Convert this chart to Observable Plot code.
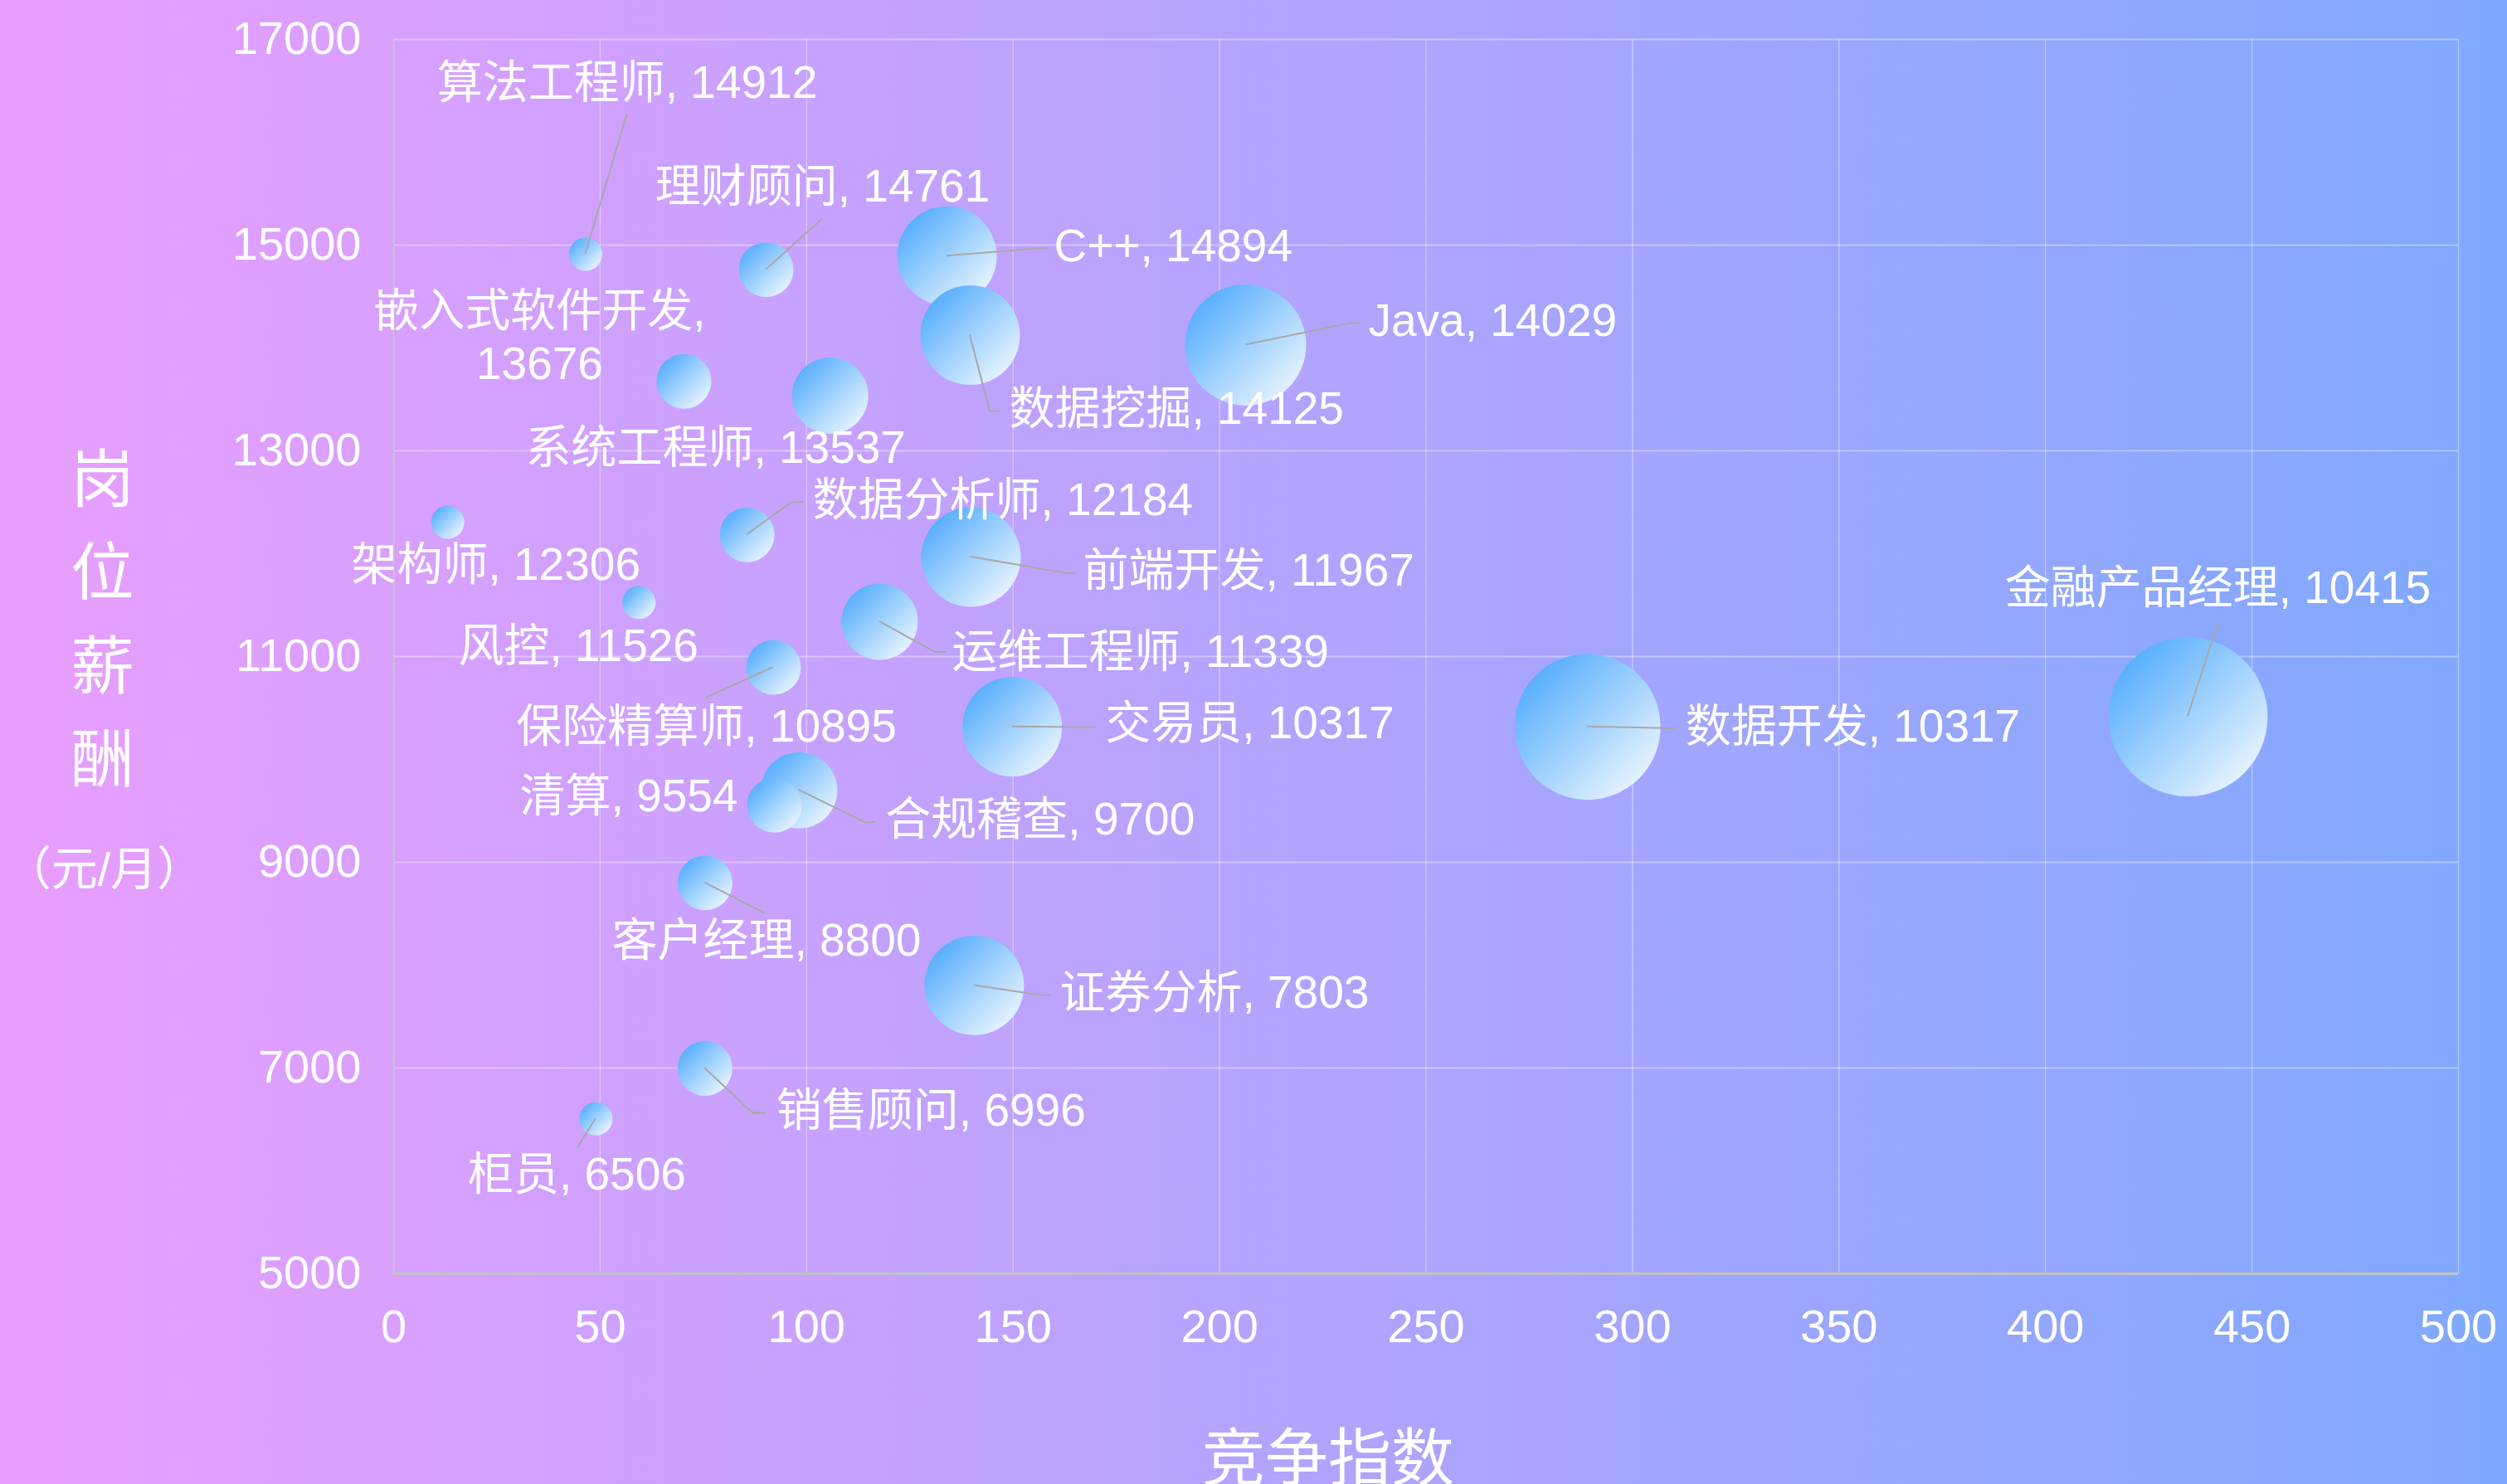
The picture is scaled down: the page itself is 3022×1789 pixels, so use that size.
<!DOCTYPE html>
<html>
<head>
<meta charset="utf-8">
<script src="https://cdn.jsdelivr.net/npm/d3@7"></script>
<script src="https://cdn.jsdelivr.net/npm/@observablehq/plot@0.6"></script>
<style>
  html, body { margin: 0; padding: 0; background: #b4a3fd; }
</style>
</head>
<body>
<div id="chart"></div>
<script>
// ---- data ----
const jobs = ["算法工程师", "理财顾问", "C++", "Java", "数据挖掘", "嵌入式软件开发", "系统工程师", "数据分析师",
  "架构师", "前端开发", "风控", "运维工程师", "保险精算师", "交易员", "数据开发", "金融产品经理",
  "合规稽查", "清算", "客户经理", "证券分析", "销售顾问", "柜员"];
const competition = [46.5, 90.2, 134.0, 206.3, 139.6, 70.3, 105.7, 85.6,
  13.1, 139.8, 59.4, 117.7, 92.0, 149.8, 289.1, 434.5,
  98.2, 92.2, 75.4, 140.6, 75.4, 49.0];
const salary = [14912, 14761, 14894, 14029, 14125, 13676, 13537, 12184,
  12306, 11967, 11526, 11339, 10895, 10317, 10317, 10415,
  9700, 9554, 8800, 7803, 6996, 6506];
const heat = [2.0, 3.3, 6.0, 7.3, 6.0, 3.3, 4.6, 3.3,
  2.0, 6.0, 2.0, 4.6, 3.3, 6.0, 8.8, 9.6,
  4.6, 3.3, 3.3, 6.0, 3.3, 2.0];
const xTicks = [0, 50, 100, 150, 200, 250, 300, 350, 400, 450, 500];
const yTicks = [5000, 7000, 9000, 11000, 13000, 15000, 17000];
const xTitle = "竞争指数";
const yTitle = ["岗", "位", "薪", "酬"];
const yUnit = "（元/月）";

// ---- label layout (pixel offsets from the bubble centre) ----
const labelLayout = {
  "算法工程师": {dx: 50, dy: -206, anchor: "middle", leader: [[50, -168]]},
  "理财顾问": {dx: 68, dy: -99, anchor: "middle", leader: [[68, -61]]},
  "C++": {dx: 129, dy: -11, anchor: "start", leader: [[112, -9], [122, -9]]},
  "Java": {dx: 148, dy: -28, anchor: "start", leader: [[126, -26], [138, -26]]},
  "数据挖掘": {dx: 47, dy: 90, anchor: "start", leader: [[24, 92], [37, 92]]},
  "嵌入式软件开发": {dx: -174, dy: -52, anchor: "middle", multiline: true},
  "系统工程师": {dx: -138, dy: 64, anchor: "middle"},
  "数据分析师": {dx: 79, dy: -41, anchor: "start", leader: [[54, -39], [68, -39]]},
  "架构师": {dx: 58, dy: 52, anchor: "middle"},
  "前端开发": {dx: 135, dy: 17, anchor: "start", leader: [[118, 20], [127, 20]]},
  "风控": {dx: -73, dy: 53, anchor: "middle"},
  "运维工程师": {dx: 87, dy: 37, anchor: "start", leader: [[67, 37], [80, 37]]},
  "保险精算师": {dx: -81, dy: 72, anchor: "middle", leader: [[-81, 37]]},
  "交易员": {dx: 112, dy: -3, anchor: "start", leader: [[90, 1], [102, 1]]},
  "数据开发": {dx: 118, dy: 1, anchor: "start", leader: [[97, 2], [107, 2]]},
  "金融产品经理": {dx: 36, dy: -154, anchor: "middle", leader: [[37, -114]]},
  "合规稽查": {dx: 104, dy: 36, anchor: "start", leader: [[80, 39], [92, 39]]},
  "清算": {dx: -44, dy: -10, anchor: "end"},
  "客户经理": {dx: 74, dy: 70, anchor: "middle", leader: [[73, 37]]},
  "证券分析": {dx: 103, dy: 10, anchor: "start", leader: [[80, 12], [92, 12]]},
  "销售顾问": {dx: 86, dy: 52, anchor: "start", leader: [[58, 54], [73, 54]]},
  "柜员": {dx: -23, dy: 68, anchor: "middle", leader: [[-22, 35]]}
};

const rows = jobs.map((name, i) => ({name, x: competition[i], y: salary[i], heat: heat[i]}));

const FONT = "'Liberation Sans', 'Noto Sans CJK SC', sans-serif";
const LABEL_SIZE = 55;

const defsMark = () => {
  const defs = d3.create("svg:defs");
  const lg = defs.append("linearGradient").attr("id", "bubbleGrad")
    .attr("x1", 0).attr("y1", 0).attr("x2", 1).attr("y2", 1);
  lg.append("stop").attr("offset", "0%").attr("stop-color", "#3ea2fc");
  lg.append("stop").attr("offset", "100%").attr("stop-color", "#ffffff");
  return defs.node();
};

const leaderMark = (index, scales) => {
  const g = d3.create("svg:g").attr("fill", "none").attr("stroke", "#a8a8a8").attr("stroke-width", 2);
  for (const d of rows) {
    const L = labelLayout[d.name];
    if (!L || !L.leader) continue;
    const cx = scales.x(d.x), cy = scales.y(d.y);
    const pts = [[cx, cy], ...L.leader.map(([a, b]) => [cx + a, cy + b])];
    g.append("path").attr("d", d3.line()(pts));
  }
  return g.node();
};

const labelMarks = rows.map(d => {
  const L = labelLayout[d.name];
  const text = L.multiline ? `${d.name},\n${d.y}` : `${d.name}, ${d.y}`;
  return Plot.text([d], {
    x: "x", y: "y", text: () => text,
    dx: L.dx, dy: L.dy - 3, textAnchor: L.anchor, lineAnchor: "middle",
    lineHeight: 1.15, fontSize: LABEL_SIZE, fill: "white"
  });
});

const chart = Plot.plot({
  width: 3022,
  height: 1789,
  marginLeft: 474,
  marginRight: 59,
  marginTop: 47,
  marginBottom: 254,
  style: {
    background: "linear-gradient(90deg, #e99efe 0%, #7fa9fd 100%)",
    color: "white",
    fontFamily: FONT
  },
  x: {domain: [0, 500]},
  y: {domain: [5000, 17000]},
  r: {type: "linear", domain: [0, 10], range: [0, 100]},
  marks: [
    defsMark,
    Plot.gridX({ticks: xTicks.filter(t => t > 0), stroke: "white", strokeOpacity: 0.35, strokeWidth: 1.5}),
    Plot.gridY({ticks: yTicks.filter(t => t > 5000), stroke: "white", strokeOpacity: 0.35, strokeWidth: 2}),
    Plot.ruleX([0], {stroke: "#c9cbbd", strokeOpacity: 0.8, strokeWidth: 2}),
    Plot.ruleY([5000], {stroke: "#c2c2c2", strokeWidth: 3}),
    Plot.axisX({ticks: xTicks, tickSize: 0, tickPadding: 43, tickFormat: "d", fontSize: 56, label: null, fill: "white"}),
    Plot.axisY({ticks: yTicks, tickSize: 0, tickPadding: 39, tickFormat: "d", fontSize: 56, label: null, fill: "white"}),
    Plot.dot(rows, {x: "x", y: "y", r: "heat", fill: "url(#bubbleGrad)", stroke: "none"}),
    leaderMark,
    ...labelMarks,
    Plot.text([xTitle], {frameAnchor: "bottom", dx: -118, dy: 225, fontSize: 76, textAnchor: "middle", lineAnchor: "middle", fill: "white"}),
    Plot.text([yTitle.join("\n")], {frameAnchor: "top-left", dx: -351, dy: 690, fontSize: 76, lineHeight: 1.48, textAnchor: "middle", lineAnchor: "middle", fill: "white"}),
    Plot.text([yUnit], {frameAnchor: "top-left", dx: -349, dy: 1002, fontSize: 56, textAnchor: "middle", lineAnchor: "middle", fill: "white"})
  ]
});

document.getElementById("chart").appendChild(chart);
</script>
</body>
</html>
